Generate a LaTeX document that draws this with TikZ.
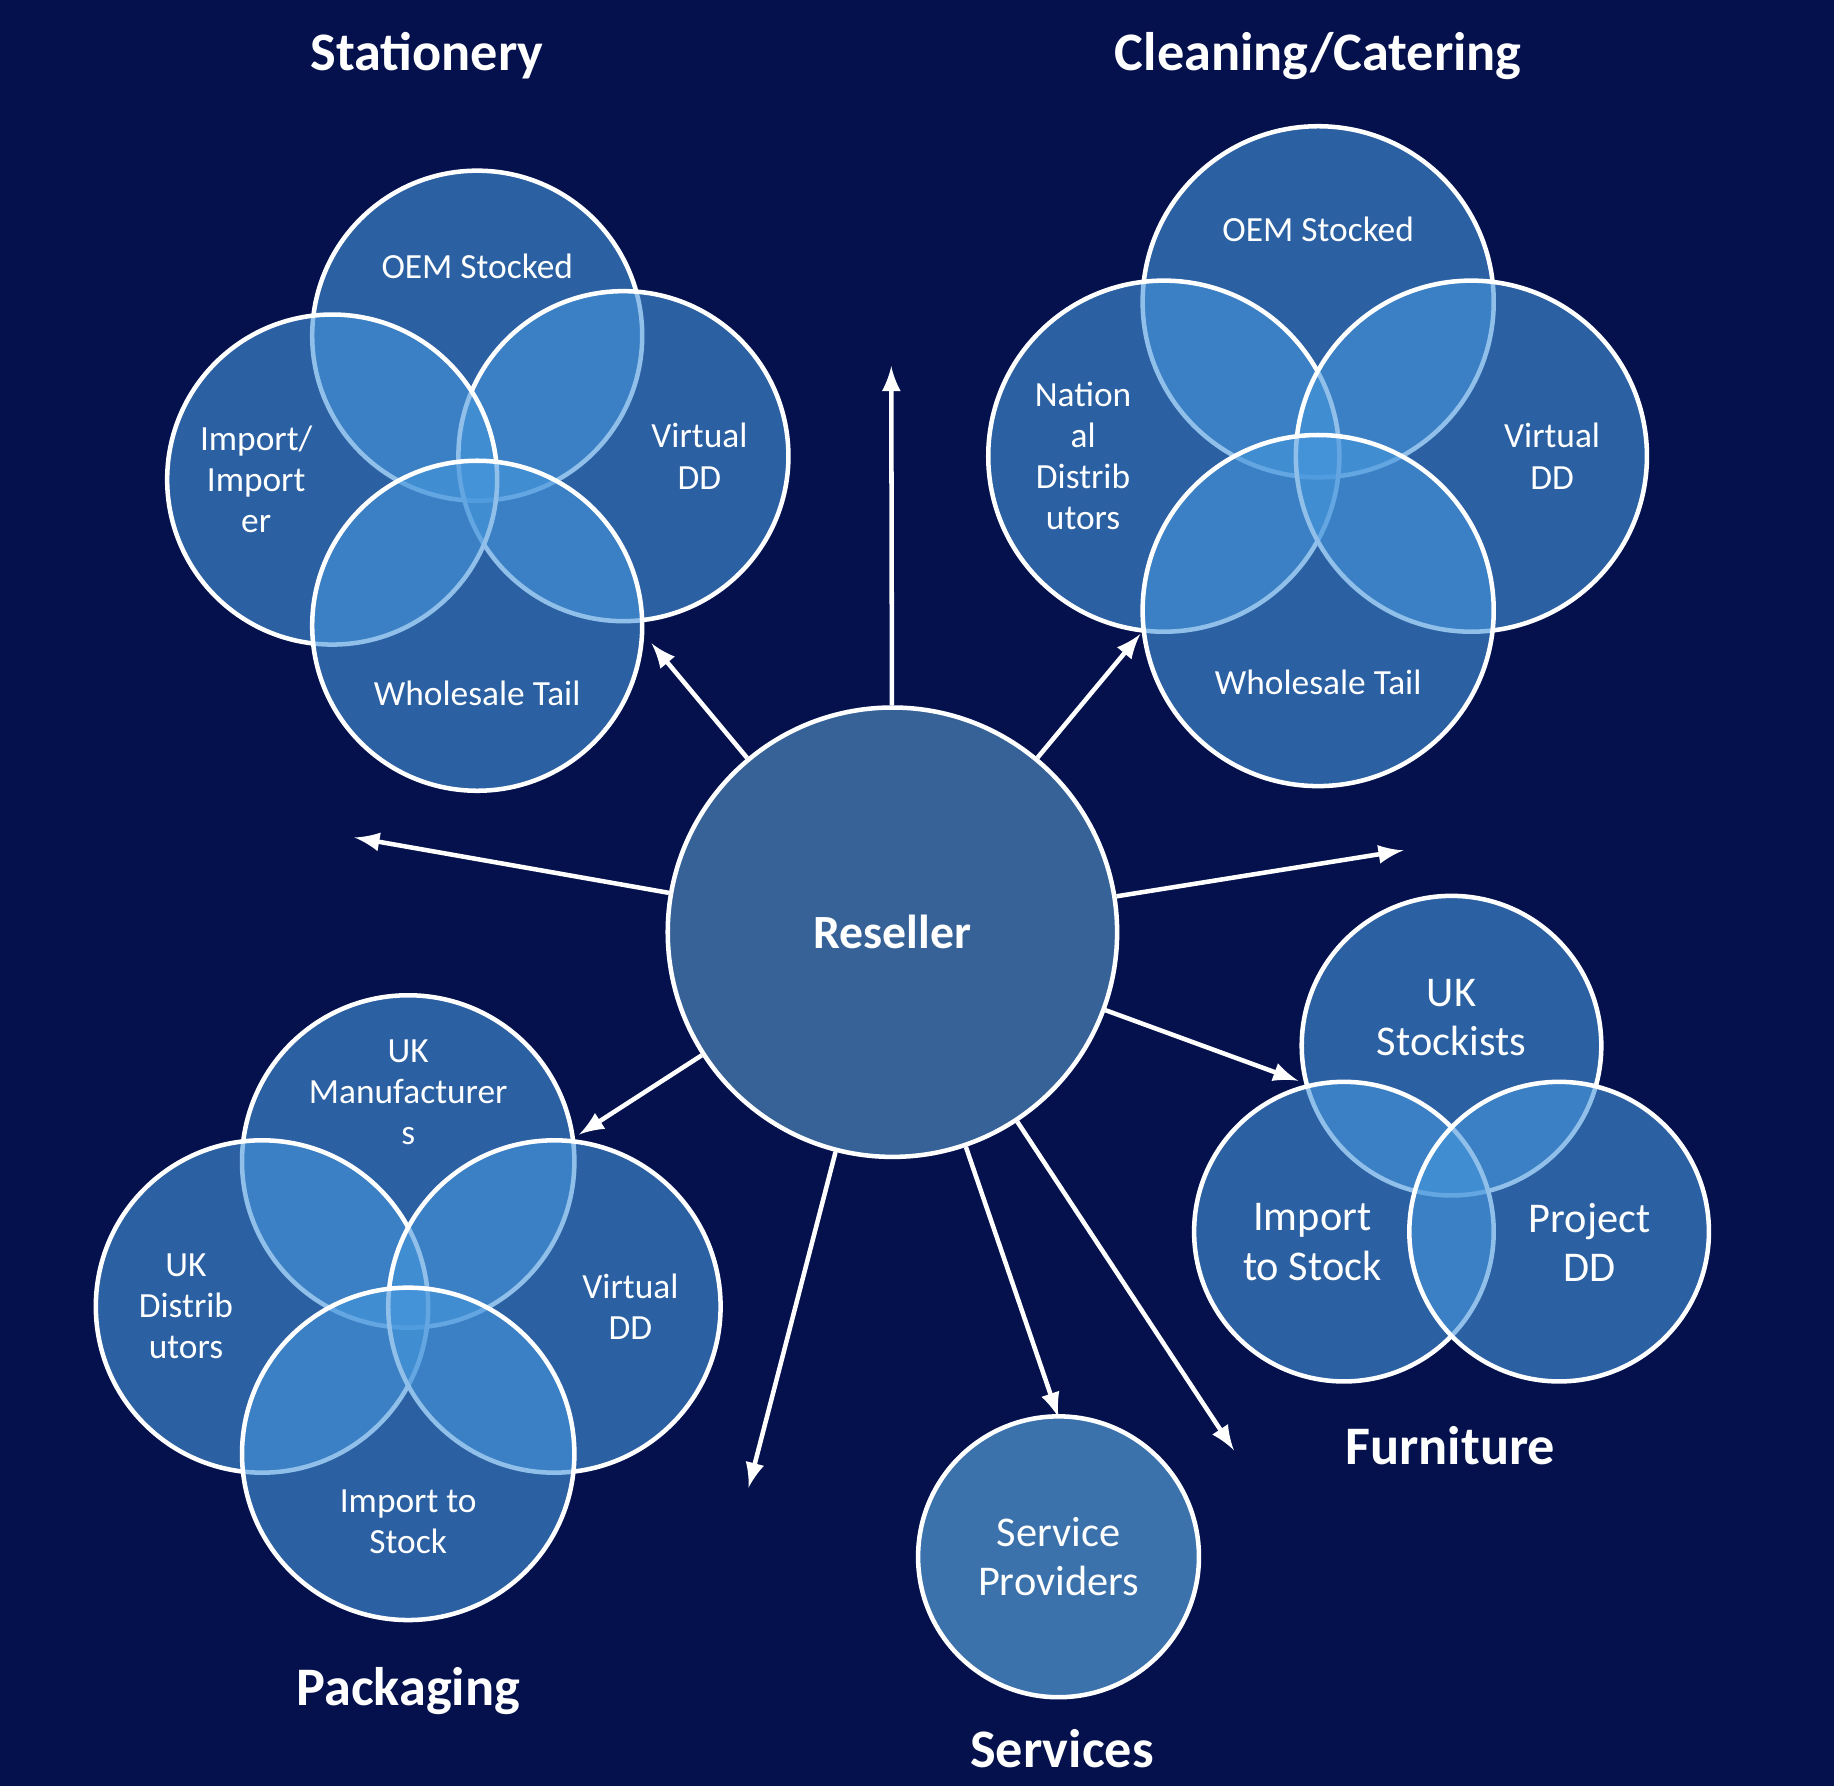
\documentclass[tikz,border=0pt]{standalone}
\usepackage{fontspec}
\setmainfont{Carlito}
\definecolor{bg}{RGB}{4,17,77}
\definecolor{cf}{RGB}{70,150,220}
\definecolor{rs}{RGB}{54,98,152}
\begin{document}
\begin{tikzpicture}[x=0.01cm,y=-0.01cm,
  vc/.style={circle,inner sep=0pt,draw=white,line width=1.1pt,fill=cf,fill opacity=0.6,text opacity=1},
  lbl/.style={text=white,font=\fontsize{8.6}{10}\selectfont,align=center},
  lbb/.style={text=white,font=\fontsize{10.3}{12}\selectfont,align=center},
  ttl/.style={text=white,font=\bfseries\fontsize{13.2}{15}\selectfont},
  arr/.style={draw=white,line width=1.1pt,-latex}]
\fill[bg] (0,0) rectangle (1568,1527);
% Stationery
\node[ttl] (t1) at (365,48) {Stationery};
\node[vc,minimum size=2.82cm] (s1) at (408,287) {};
\node[vc,minimum size=2.82cm] (s2) at (533,390) {};
\node[vc,minimum size=2.82cm] (s3) at (284,410) {};
\node[vc,minimum size=2.82cm] (s4) at (408,535) {};
\node[lbl] (ls1) at (408,228) {OEM Stocked};
\node[lbl] (ls2) at (598,390) {Virtual\\DD};
\node[lbl] (ls3) at (219,410) {Import/\\Import\\er};
\node[lbl] (ls4) at (408,593) {Wholesale Tail};
% Cleaning
\node[ttl] (t2) at (1127,48) {Cleaning/Catering};
\node[vc,minimum size=3cm] (c1) at (1127,258) {};
\node[vc,minimum size=3cm] (c2) at (995,390) {};
\node[vc,minimum size=3cm] (c3) at (1258,390) {};
\node[vc,minimum size=3cm] (c4) at (1127,522) {};
\node[lbl] (lc1) at (1127,196) {OEM Stocked};
\node[lbl] (lc2) at (926,390) {Nation\\al\\Distrib\\utors};
\node[lbl] (lc3) at (1327,390) {Virtual\\DD};
\node[lbl] (lc4) at (1127,583) {Wholesale Tail};
% Furniture
\node[ttl] (t3) at (1240,1236) {Furniture};
\node[vc,minimum size=2.56cm] (f1) at (1241,894) {};
\node[vc,minimum size=2.56cm] (f2) at (1149,1053) {};
\node[vc,minimum size=2.56cm] (f3) at (1333,1053) {};
\node[lbb] (lf1) at (1241,870) {UK\\Stockists};
\node[lbb] (lf2) at (1122,1062) {Import\\to Stock};
\node[lbb] (lf3) at (1359,1062) {Project\\DD};
% Packaging
\node[ttl] (t4) at (349,1446) {Packaging};
\node[vc,minimum size=2.84cm] (p1) at (349,993) {};
\node[vc,minimum size=2.84cm] (p2) at (224,1117) {};
\node[vc,minimum size=2.84cm] (p3) at (474,1117) {};
\node[vc,minimum size=2.84cm] (p4) at (349,1243) {};
\node[lbl] (lp1) at (349,934) {UK\\Manufacturer\\s};
\node[lbl] (lp2) at (159,1117) {UK\\Distrib\\utors};
\node[lbl] (lp3) at (539,1117) {Virtual\\DD};
\node[lbl] (lp4) at (349,1301) {Import to\\Stock};
% Services
\node[ttl] (t5) at (908,1495) {Services};
\node[circle,inner sep=0pt,draw=white,line width=1.1pt,fill=rs!70!cf,minimum size=2.4cm] (sv) at (905,1331) {};
\node[lbb] (lsv) at (905,1331) {Service\\Providers};
% Reseller
\node[circle,inner sep=0pt,draw=white,line width=1.1pt,fill=rs,minimum size=3.84cm,text=white,font=\bfseries\fontsize{11.6}{14}\selectfont] (R) at (763,797) {Reseller};
\coordinate (a1) at (762,313);
\coordinate (a2) at (303,716);
\coordinate (a3) at (1200,727);
\coordinate (a4) at (557,550);
\coordinate (a5) at (975,542);
\coordinate (a6) at (495,970);
\coordinate (a7) at (640,1272);
\coordinate (a8) at (905,1212);
\coordinate (a9) at (1110,924);
\coordinate (a10) at (1055,1240);
\foreach \c in {a1,a2,a3,a4,a5,a6,a7,a8,a9,a10} \draw[arr] (R) -- (\c);
\end{tikzpicture}
\end{document}
